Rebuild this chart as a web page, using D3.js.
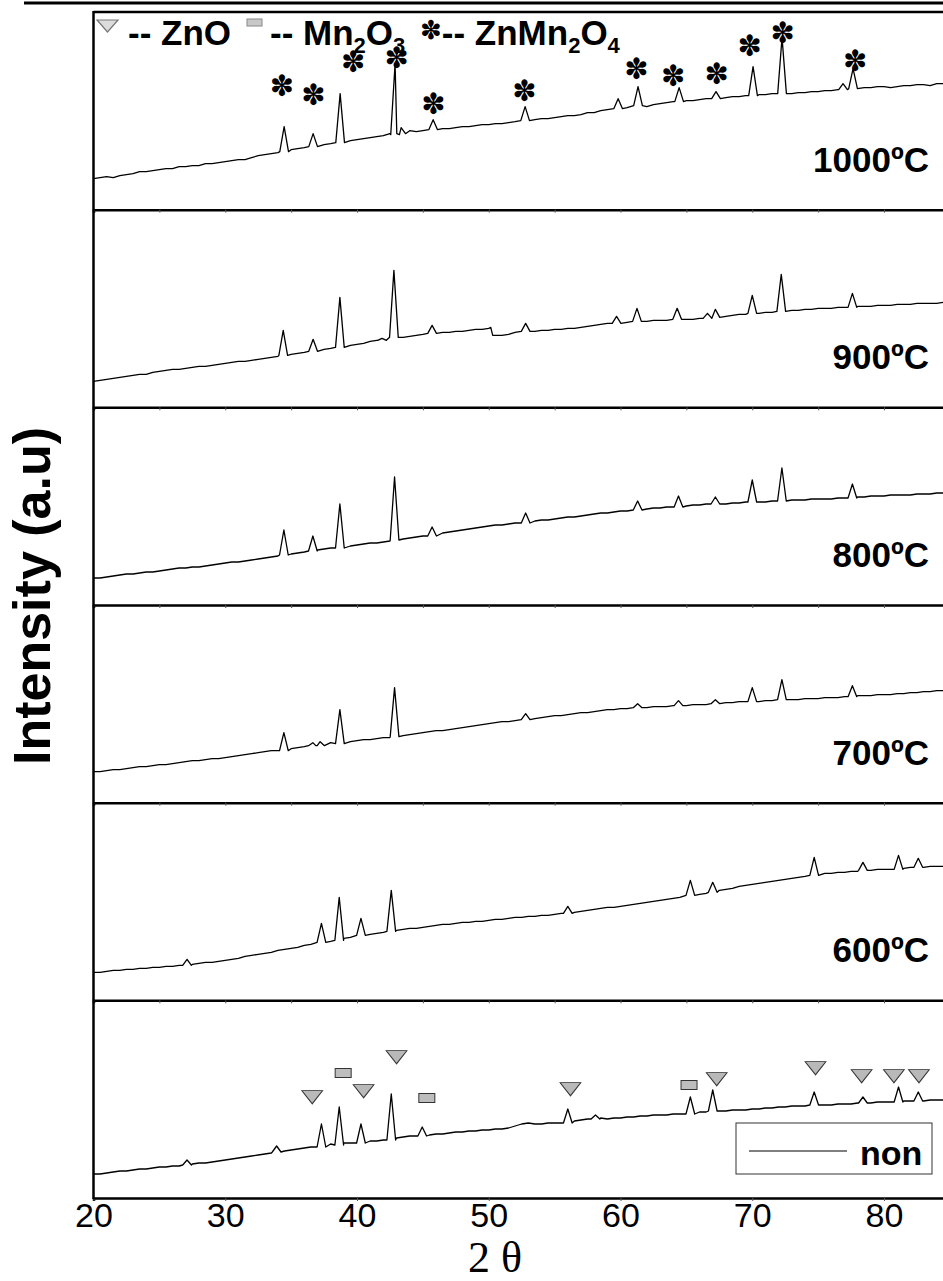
<!DOCTYPE html>
<html>
<head>
<meta charset="utf-8">
<script src="https://cdn.jsdelivr.net/npm/d3@7"></script>
<style>
  body { margin: 0; background: #fff; }
  svg { display: block; }
</style>
</head>
<body>
<svg id="chart" width="943" height="1281"></svg>
<script>
// panels, top to bottom
const panels = ["1000ºC", "900ºC", "800ºC", "700ºC", "600ºC", "non"];

// baseline heights read every 0.5° from 2θ = 20 to 85 (one row = 5°)
const gridTheta = d3.range(20, 85.25, 0.5);

const base1000 = [
  31,32,33,32,34,35,36,38,38,39, 40,41,41,43,43,44,44,46,46,47,
  48,49,50,50,52,54,55,56,57,59, 60,61,62,63,64,65,66,67,69,69,
  70,71,72,73,74,76,76,77,79,78, 79,80,80,81,81,82,83,83,84,85,
  85,86,86,87,88,88,89,90,91,91, 92,93,94,94,95,97,97,99,100,102,
  103,102,104,103,103,105,106,107,108,108, 109,109,110,111,111,111,112,113,113,114,
  114,115,115,116,116,116,116,117,117,118, 118,119,119,120,120,121,121,122,122,123,
  123,122,123,124,124,125,125,124,126,126, 126];
const base900 = [
  26,27,28,29,30,31,32,33,33,35, 36,37,38,38,39,40,41,41,42,43,
  44,45,46,46,47,48,49,50,51,52, 53,54,55,56,57,58,59,60,61,62,
  63,64,66,67,68,69,70,70,71,72, 73,73,74,75,75,76,76,77,78,78,
  79,72,72,73,75,75,76,76,77,77, 78,78,79,79,80,81,82,83,84,84,
  85,85,86,86,86,87,87,87,88,88, 88,88,89,89,90,91,91,92,93,93,
  94,94,95,95,96,96,97,97,98,98, 99,99,99,100,100,100,101,101,101,102,
  102,102,103,103,103,104,104,104,104,105, 105];
const base800 = [
  27,27,28,29,30,31,31,32,33,33, 34,35,36,37,37,38,38,39,40,41,
  42,43,43,44,45,46,47,48,49,50, 51,52,53,54,55,56,57,58,59,59,
  60,61,62,62,63,64,65,66,67,68, 69,70,71,72,73,74,75,76,77,78,
  79,80,80,81,82,82,83,84,85,85, 86,87,88,88,89,90,91,92,92,93,
  94,94,95,96,96,97,97,98,98,99, 99,100,100,101,101,101,101,102,102,103,
  103,103,103,104,104,104,105,105,105,106, 106,106,106,107,107,108,108,108,109,109,
  109,110,110,110,110,111,111,111,112,112, 112];
const base700 = [
  31,31,32,33,33,34,35,36,36,37, 38,38,39,40,41,42,42,43,44,44,
  45,46,47,48,49,50,51,52,52,53, 54,55,56,57,58,59,60,60,61,61,
  62,63,63,64,65,65,66,67,68,69, 70,71,72,72,73,74,75,76,77,78,
  79,80,81,81,82,83,84,84,85,86, 87,87,88,89,90,90,91,92,93,93,
  94,94,95,95,95,96,96,96,97,97, 97,98,98,98,99,99,100,100,101,101,
  101,101,102,102,103,103,103,103,104,104, 104,105,105,105,106,106,107,107,107,108,
  108,108,109,109,110,110,111,111,112,112, 113];
const base600 = [
  28,28,29,30,30,31,31,32,32,33, 33,34,34,35,35,36,37,38,38,39,
  40,41,42,44,45,46,47,48,50,51, 52,53,55,56,57,58,59,61,62,63,
  64,65,66,67,68,69,70,71,72,72, 73,74,75,76,76,77,78,78,79,79,
  80,81,81,82,83,83,84,84,85,85, 86,87,87,88,89,90,91,92,93,93,
  94,95,96,97,98,99,100,101,102,103, 104,105,106,107,108,110,111,112,114,115,
  116,117,118,119,120,121,122,123,124,125, 126,127,127,128,128,129,129,130,130,131,
  131,131,132,132,133,133,133,134,134,134, 134];
const baseNon = [
  24,24,25,26,27,27,28,29,29,30, 31,31,32,32,33,34,35,35,36,37,
  38,39,40,41,42,43,44,45,47,47, 48,49,50,51,52,52,54,54,55,55,
  56,56,57,57,58,59,60,61,62,62, 63,63,64,64,65,66,66,67,67,68,
  68,69,69,70,72,74,75,74,74,75, 75,75,76,77,78,79,80,80,79,80,
  80,81,81,82,82,83,83,83,84,84, 85,85,86,86,87,87,87,88,88,88,
  89,89,90,90,91,91,92,92,92,93, 93,93,93,94,94,94,95,95,95,96,
  96,96,96,97,97,97,97,98,98,98, 98];

// peaks: [2θ, top, foot]
const peaks1000 = [[34.47,83,58],[36.67,76,63],[38.72,116,67],[42.89,146,75],[43.35,82,76],[45.78,90,80],[52.76,103,89],[59.82,111,101],[61.33,123,104],[64.45,122,108],[67.25,118,111],[70.06,143,114],[72.26,172,116],[76.89,126,120],[77.65,141,121]];
const peaks900 = [[34.4,77,52],[36.67,68,56],[38.7,110,60],[41.9,69,67],[42.8,137,70],[45.7,82,74],[52.8,84,76],[59.7,91,84],[61.25,99,86],[64.3,99,88],[66.6,94,89],[67.2,98,90],[70.0,112,94],[72.2,133,96],[77.6,114,100]];
const peaks800 = [[34.45,75,50],[36.65,69,54],[38.7,101,57],[42.85,128,65],[45.7,78,69],[52.8,92,82],[61.3,104,95],[64.4,109,98],[67.2,108,101],[70.0,125,103],[72.25,137,104],[77.6,121,107]];
const peaks700 = [[34.45,70,52],[36.65,60,57],[37.2,61,57],[38.7,93,59],[42.85,115,66],[52.8,89,83],[61.3,99,95],[64.4,102,97],[67.2,103,99],[70.0,115,101],[72.25,123,103],[77.6,117,106]];
const peaks600 = [[27.1,41,35],[37.3,77,58],[38.65,103,60],[40.3,82,65],[42.6,110,69],[56.0,94,87],[65.3,120,105],[67.0,118,108],[74.7,143,125],[78.4,138,130],[81.1,145,131],[82.6,142,133]];
const peaksNon = [[27.1,38,33],[33.9,52,46],[37.3,74,51],[38.65,91,53],[40.3,74,55],[42.6,104,58],[44.95,71,62],[56.0,89,75],[58.1,83,79],[65.3,101,84],[67.0,108,87],[74.7,106,93],[78.4,101,95],[81.1,111,96],[82.6,106,97]];

// the drop in the 900ºC pattern near 50°
const extra900 = [[50.15,80],[50.3,72]];

// phase markers: [2θ, height]
const spinelMarks = [[34.3,124],[36.7,115],[39.7,148],[43.0,152],[45.8,106],[52.7,119],[61.2,141],[64.0,134],[67.3,136],[69.8,164],[72.3,177],[77.8,149]];
const znoMarks = [[36.6,103],[40.5,109],[43.0,143],[56.2,111],[67.3,121],[74.8,132],[78.3,124],[80.75,124],[82.65,124]];
const mn2o3Marks = [[38.95,125],[45.3,100],[65.2,113]];

const xTicks = [20, 30, 40, 50, 60, 70, 80];
const xMinor = [20, 25, 30, 35, 40, 45, 50, 55, 60, 65, 70, 75, 80, 85];

const series = {
  "1000ºC": [base1000, peaks1000, []],
  "900ºC": [base900, peaks900, extra900],
  "800ºC": [base800, peaks800, []],
  "700ºC": [base700, peaks700, []],
  "600ºC": [base600, peaks600, []],
  "non": [baseNon, peaksNon, []]
};

function buildSeries(base, peaks, extra) {
  const w = 0.33;
  const pts = [];
  gridTheta.forEach((t, i) => {
    if (!peaks.some(p => Math.abs(t - p[0]) < w + 0.02)) pts.push([t, base[i]]);
  });
  peaks.forEach(([c, top, foot]) => pts.push([c - w, foot], [c, top], [c + w, foot]));
  extra.forEach(p => pts.push(p));
  return pts.sort((a, b) => a[0] - b[0]);
}

const svg = d3.select("#chart");

const x = d3.scaleLinear().domain([20, 85]).range([93.5, 949.9]);
const band = d3.scaleBand().domain(panels).range([12, 1198]).paddingInner(0);
const h = band.bandwidth();

// page rule at the top
svg.append("line")
  .attr("x1", 24).attr("x2", 943).attr("y1", 3).attr("y2", 3)
  .attr("stroke", "#000").attr("stroke-width", 3);

// top frame edge
svg.append("line")
  .attr("x1", 93.5).attr("x2", 943).attr("y1", 12).attr("y2", 12)
  .attr("stroke", "#000").attr("stroke-width", 2.5);

const line = d3.line().x(d => x(d[0]));

panels.forEach((name, i) => {
  const bottom = band(name) + h;
  const y = d3.scaleLinear().domain([0, h]).range([bottom, bottom - h]);
  const g = svg.append("g");

  const [base, peaks, extra] = series[name];
  g.append("path")
    .datum(buildSeries(base, peaks, extra))
    .attr("fill", "none")
    .attr("stroke", "#000")
    .attr("stroke-width", 1.3)
    .attr("stroke-linejoin", "round")
    .attr("d", line.y(d => y(d[1])));

  const last = i === panels.length - 1;
  const axis = g.append("g")
    .attr("transform", `translate(0,${bottom})`)
    .call(d3.axisBottom(x).tickValues(last ? xTicks : xMinor).tickSize(3).tickPadding(2)
      .tickFormat(last ? d3.format("d") : ""));
  axis.select(".domain").attr("stroke-width", 2.5);
  axis.selectAll(".tick line").attr("stroke", "#555");
  axis.selectAll("text")
    .style("font-family", "'Liberation Sans', Arial, sans-serif")
    .style("font-size", "34px")
    .attr("fill", "#000");

  if (!last) {
    g.append("text")
      .attr("x", 929).attr("y", bottom - 38)
      .attr("text-anchor", "end")
      .style("font-family", "'Liberation Sans', Arial, sans-serif")
      .style("font-weight", "bold")
      .style("font-size", "35px")
      .text(name);
  }

  if (i === 0) {
    g.selectAll(".star")
      .data(spinelMarks)
      .join("text")
      .attr("x", d => x(d[0]))
      .attr("y", d => y(d[1]))
      .attr("text-anchor", "middle")
      .attr("dominant-baseline", "central")
      .style("font-family", "'DejaVu Sans', sans-serif")
      .style("font-size", "29px")
      .text("✽");
  }

  if (last) {
    const tri = d3.symbol().type(d3.symbolTriangle).size(140);
    g.selectAll(".zno")
      .data(znoMarks)
      .join("path")
      .attr("transform", d => `translate(${x(d[0])},${y(d[1])}) rotate(180) scale(1.15,0.85)`)
      .attr("d", tri)
      .attr("fill", "#b9b9b9")
      .attr("stroke", "#333")
      .attr("stroke-width", 1);

    g.selectAll(".mn")
      .data(mn2o3Marks)
      .join("rect")
      .attr("x", d => x(d[0]) - 8)
      .attr("y", d => y(d[1]) - 4.5)
      .attr("width", 16).attr("height", 9)
      .attr("fill", "#bdbdbd")
      .attr("stroke", "#333")
      .attr("stroke-width", 1);

    // legend box
    const lg = g.append("g");
    lg.append("rect")
      .attr("x", 736).attr("y", 1123).attr("width", 196).attr("height", 51)
      .attr("fill", "#fff").attr("stroke", "#333").attr("stroke-width", 1);
    lg.append("line")
      .attr("x1", 749).attr("x2", 847).attr("y1", 1151).attr("y2", 1151)
      .attr("stroke", "#555").attr("stroke-width", 1.5);
    lg.append("text")
      .attr("x", 860).attr("y", 1165)
      .style("font-family", "'Liberation Sans', Arial, sans-serif")
      .style("font-weight", "bold")
      .style("font-size", "34px")
      .text("non");
  }
});

// left frame edge
svg.append("line")
  .attr("x1", 93.5).attr("x2", 93.5).attr("y1", 11).attr("y2", 1199)
  .attr("stroke", "#000").attr("stroke-width", 2.5);

// phase key along the top
const key = svg.append("g")
  .style("font-family", "'Liberation Sans', Arial, sans-serif")
  .style("font-weight", "bold")
  .style("font-size", "35px");

key.append("path")
  .attr("d", "M97,20 L118,20 L107.5,32 Z")
  .attr("fill", "#dcdcdc").attr("stroke", "#777").attr("stroke-width", 1.2);
key.append("text").attr("x", 128).attr("y", 45).text("-- ZnO");

key.append("rect")
  .attr("x", 247).attr("y", 19).attr("width", 15).attr("height", 7)
  .attr("fill", "#c8c8c8").attr("stroke", "#888").attr("stroke-width", 1);
const t2 = key.append("text").attr("x", 270).attr("y", 45);
t2.append("tspan").text("-- Mn");
t2.append("tspan").attr("dy", 8).style("font-size", "22px").text("2");
t2.append("tspan").attr("dy", -8).text("O");
t2.append("tspan").attr("dy", 8).style("font-size", "22px").text("3");

const t3 = key.append("text").attr("x", 420).attr("y", 45);
t3.append("tspan").style("font-family", "'DejaVu Sans', sans-serif").style("font-weight", "normal")
  .style("font-size", "26px").attr("dy", -6).text("✽");
t3.append("tspan").attr("dy", 6).text("-- ZnMn");
t3.append("tspan").attr("dy", 8).style("font-size", "22px").text("2");
t3.append("tspan").attr("dy", -8).text("O");
t3.append("tspan").attr("dy", 8).style("font-size", "22px").text("4");

// axis titles
svg.append("text")
  .attr("transform", "translate(50,596) rotate(-90)")
  .attr("text-anchor", "middle")
  .style("font-family", "'Liberation Sans', Arial, sans-serif")
  .style("font-weight", "bold")
  .style("font-size", "52px")
  .text("Intensity (a.u)");

svg.append("text")
  .attr("x", 495).attr("y", 1272)
  .attr("text-anchor", "middle")
  .style("font-family", "'Liberation Serif', 'Times New Roman', serif")
  .style("font-size", "44px")
  .text("2 θ");
</script>
</body>
</html>
